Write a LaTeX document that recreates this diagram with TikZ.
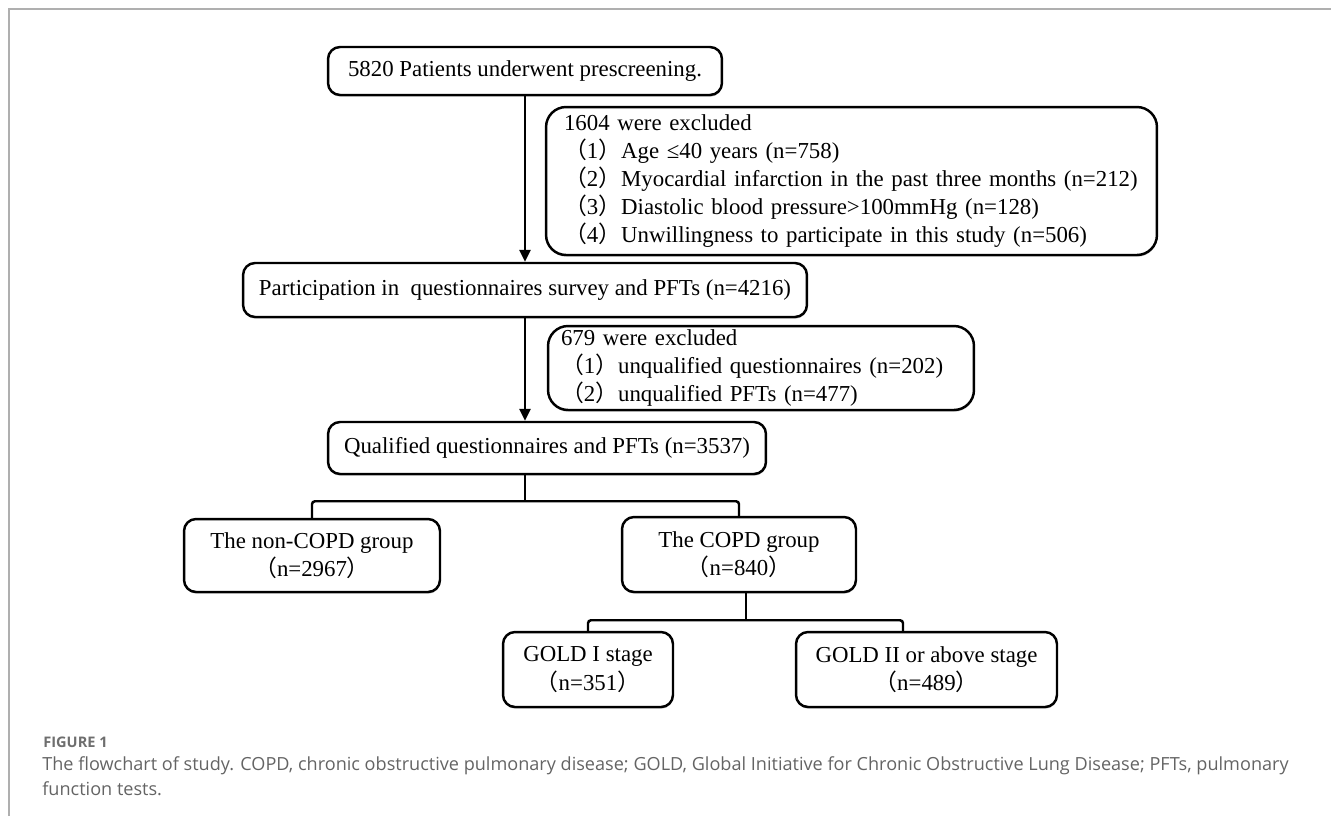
\documentclass[tikz,border=0pt]{standalone}
\usepackage{fontspec}
\setmainfont{Liberation Serif}
\newfontfamily\capfont{Open Sans}
\newfontfamily\cjk{Noto Sans CJK SC}
\usetikzlibrary{arrows.meta, calc, shadows}
\definecolor{framegray}{RGB}{175,175,175}
\definecolor{captext}{RGB}{100,100,100}
\definecolor{figgray}{RGB}{110,110,110}
\newcommand{\fwl}{{\cjk （}}
\newcommand{\fwr}{{\cjk ）}}

\begin{document}
\begin{tikzpicture}[
    x=0.02cm, y=-0.02cm,
    box/.style={rectangle, draw=black, line width=1.4pt, fill=white, rounded corners=2.4mm, align=center, inner sep=0pt, font=\fontsize{13}{16}\selectfont, drop shadow={shadow xshift=0.2pt, shadow yshift=-1pt, fill=black!45}},
    exbox/.style={box, align=left, rounded corners=4mm},
    link/.style={line width=1.4pt, rounded corners=0.6mm},
    arrow/.style={line width=1.4pt, -{Triangle[length=2.4mm, width=2.2mm]}},
    frame/.style={draw=framegray, line width=0.8pt}
]
    \useasboundingbox (0,0) rectangle (1331,816);
    \draw [frame] (9,816) -- (9,9) -- (1331,9);

    \node [box, minimum width=7.88cm, minimum height=0.96cm] (screen) at (525,71) {5820 Patients underwent prescreening.};
    \node [exbox, minimum width=12.22cm, minimum height=2.96cm, text width=11.5cm] (excl1) at (851.5,181) {1604 were excluded\\
        \fwl 1\fwr Age ≤40 years (n=758)\\
        \fwl 2\fwr Myocardial infarction in the past three months (n=212)\\
        \fwl 3\fwr Diastolic blood pressure>100mmHg (n=128)\\
        \fwl 4\fwr Unwillingness to participate in this study (n=506)};
    \node [box, minimum width=11.28cm, minimum height=1.08cm] (survey) at (525,290) {Participation in\ \ questionnaires survey and PFTs (n=4216)};
    \node [exbox, minimum width=8.52cm, minimum height=1.68cm, text width=8.0cm] (excl2) at (761,368) {679 were excluded\\
        \fwl 1\fwr unqualified questionnaires (n=202)\\
        \fwl 2\fwr unqualified PFTs (n=477)};
    \node [box, minimum width=8.76cm, minimum height=1.04cm] (qualified) at (547,448) {Qualified questionnaires and PFTs (n=3537)};
    \node [box, minimum width=5.12cm, minimum height=1.46cm] (noncopd) at (312,555.5) {The non-COPD group\\\fwl n=2967\fwr};
    \node [box, minimum width=4.68cm, minimum height=1.5cm] (copd) at (739,554.5) {The COPD group\\\fwl n=840\fwr};
    \node [box, minimum width=3.4cm, minimum height=1.5cm] (goldone) at (588,669.5) {GOLD I stage\\\fwl n=351\fwr};
    \node [box, minimum width=5.22cm, minimum height=1.5cm] (goldtwo) at (926.5,669.5) {GOLD II or above stage\\\fwl n=489\fwr};

    \draw [arrow] (screen) -- (survey);
    \draw [arrow] (survey.south) -- (survey.south |- qualified.north);

    % split into groups
    \coordinate (split1) at ($(survey.south |- qualified.south)+(0,26)$);
    \draw [link] (survey.south |- qualified.south) -- (split1);
    \draw [link] (noncopd.north) |- (split1) -| (copd.north);

    % split into GOLD stages
    \coordinate (split2) at ($(copd.south)+(7,27)$);
    \draw [link] (copd.south -| split2) -- (split2);
    \draw [link] (goldone.north) |- (split2) -| ($(goldtwo.north)+(-23.5,0)$);

    \node [anchor=west, inner sep=0pt, font=\capfont\bfseries\fontsize{8.3}{10}\selectfont, text=figgray] (figlabel) at (43,742) {FIGURE 1};
    \node [anchor=north west, inner sep=0pt, align=left, font=\capfont\fontsize{10.3}{14.5}\selectfont, text=captext] (caption) at (42,756) {The flowchart of study. COPD, chronic obstructive pulmonary disease; GOLD, Global Initiative for Chronic Obstructive Lung Disease; PFTs, pulmonary\\function tests.};
\end{tikzpicture}
\end{document}
